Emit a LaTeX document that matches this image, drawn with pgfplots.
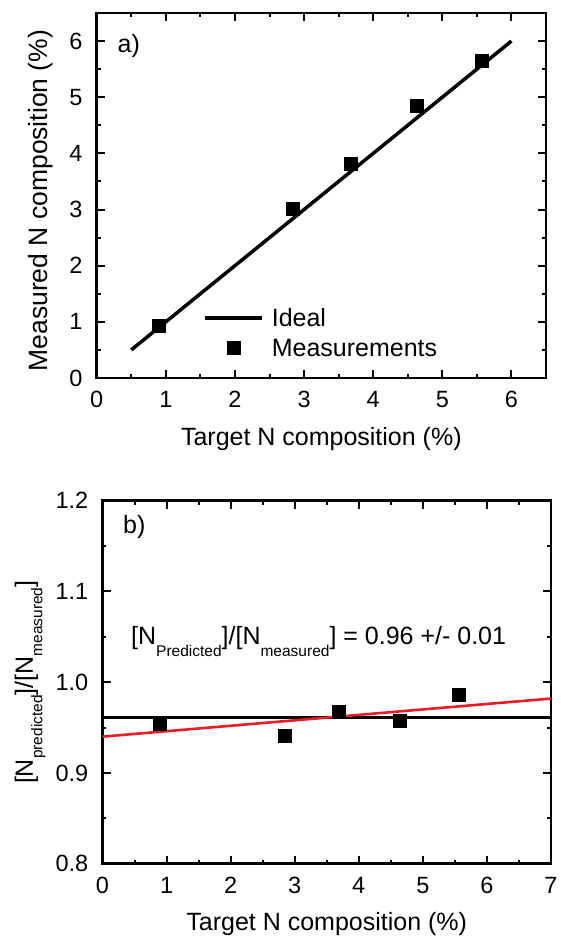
\documentclass[border=0pt]{standalone}
\usepackage{pgfplots}
\pgfplotsset{compat=1.18}
\usepackage{fontspec}
\setmainfont{Liberation Sans}
\definecolor{fitred}{RGB}{237,28,36}
\newcommand{\lab}{\fontsize{25}{30}\selectfont}
\newcommand{\tck}{\fontsize{23.5}{28}\selectfont}
\newcommand{\sub}[2][-12pt]{\raisebox{#1}{\fontsize{15.5}{18}\selectfont #2}}
\pgfplotsset{
  panel/.style={
    scale only axis, anchor=south west,
    axis line style={line width=2.5pt},
    tick align=inside,
    major tick length=8pt, minor tick length=4pt,
    tick style={line width=2pt, black},
    minor x tick num=1, minor y tick num=1,
    tick label style={font=\tck},
    xticklabel style={anchor=base, yshift=-30pt, inner sep=0pt},
    yticklabel style={anchor=east, xshift=-14pt, inner sep=0pt},
    label style={font=\lab, inner sep=0pt},
    xlabel style={anchor=base},
    ylabel style={anchor=base},
  },
  lineleg/.style={legend image code/.code={\draw[##1] (0pt,8.5pt) -- (57pt,8.5pt);}},
  markleg/.style={legend image code/.code={\draw[##1] plot coordinates {(28.5pt,9pt)};}},
}
\begin{document}
\begin{tikzpicture}
\useasboundingbox (0pt,0pt) rectangle (560pt,937pt);
% ---------------- panel a ----------------
\begin{axis}[panel,
  at={(96.7pt,559pt)}, width=449.3pt, height=365pt,
  xmin=0, xmax=6.5, ymin=0, ymax=6.5,
  xtick={0,1,2,3,4,5,6}, ytick={0,1,2,3,4,5,6},
  xticklabels={0,1,2,3,4,5,6}, yticklabels={0,1,2,3,4,5,6},
  xlabel={Target N composition (\%)},
  ylabel={Measured N composition (\%)},
  xlabel style={at={(axis description cs:0.5,-0.1836)}},
  ylabel style={at={(axis description cs:-0.1084,0.486)}, font=\fontsize{26.5}{30}\selectfont},
  legend style={draw=none, fill=none, at={(axis description cs:0.2369,0.1918)},
    anchor=north west, inner sep=0pt, row sep=13pt, column sep=8pt,
    font=\lab, cells={anchor=base west}, nodes={inner sep=0pt, text depth=0pt}},
]
\addplot[black, line width=3.5pt, lineleg]
  coordinates {(0.5,0.5) (6,6)};
\addlegendentry{Ideal}
\addplot[only marks, mark=square*, mark size=6.5pt,
  mark options={black, fill=black, line width=0.4pt}, markleg]
  coordinates {(0.89,0.93) (2.84,3.02) (3.68,3.82) (4.63,4.85) (5.57,5.65)};
\addlegendentry{Measurements}
\node[anchor=base west, inner sep=0pt, font=\lab] at (axis cs:0.3,5.79) {a)};
\end{axis}
% ---------------- panel b ----------------
\begin{axis}[panel,
  at={(102.5pt,73.3pt)}, width=448.5pt, height=363pt,
  xmin=0, xmax=7, ymin=0.8, ymax=1.2,
  xtick={0,1,2,3,4,5,6,7}, ytick={0.8,0.9,1.0,1.1,1.2},
  xticklabels={0,1,2,3,4,5,6,7}, yticklabels={0.8,0.9,1.0,1.1,1.2},
  xlabel={Target N composition (\%)},
  ylabel={[N\sub[-9.5pt]{predicted}]/[N\sub[-9.5pt]{measured}]},
  xlabel style={at={(axis description cs:0.5,-0.1846)}},
  ylabel style={at={(axis description cs:-0.155,0.5)}},
]
\addplot[black, line width=2.6pt] coordinates {(0,0.961) (7,0.961)};
\addplot[fitred, line width=2.6pt] coordinates {(0,0.940) (7,0.982)};
\addplot[only marks, mark=square*, mark size=6.5pt,
  mark options={black, fill=black, line width=0.4pt}]
  coordinates {(0.89,0.954) (2.84,0.941) (3.68,0.968) (4.64,0.958) (5.56,0.986)};
\node[anchor=base west, inner sep=0pt, font=\lab] at (axis cs:0.32,1.164) {b)};
\node[anchor=base west, inner sep=0pt, font=\lab] at (axis cs:0.445,1.041)
  {[N\sub{Predicted}]/[N\sub{measured}] = 0.96 +/- 0.01};
\end{axis}
\end{tikzpicture}
\end{document}
